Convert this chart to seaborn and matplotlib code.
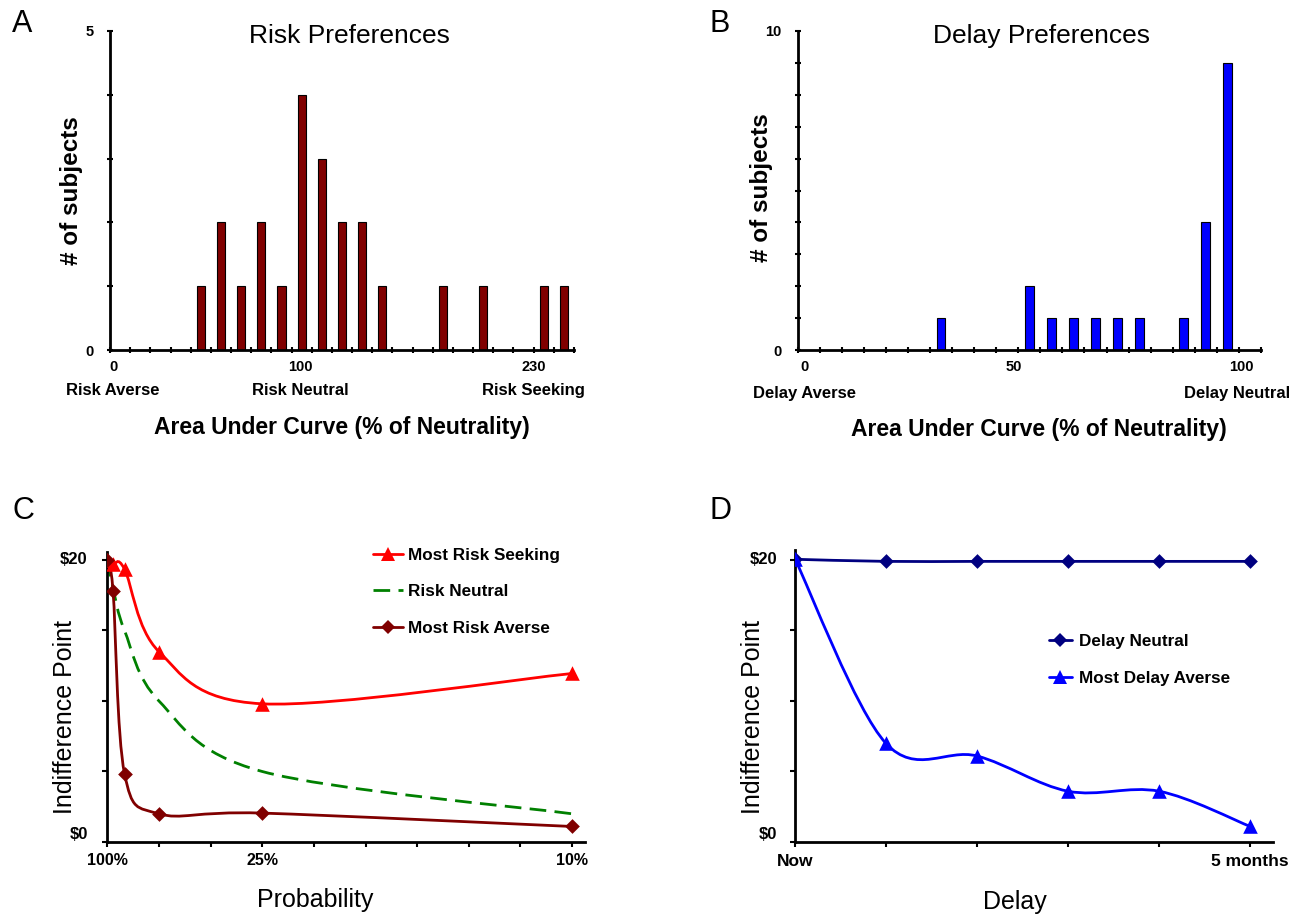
import numpy as np
import matplotlib
matplotlib.use("Agg")
import matplotlib.pyplot as plt
import seaborn as sns
from matplotlib.path import Path
from matplotlib.patches import PathPatch
from matplotlib.lines import Line2D

# ---- data ----
# A: risk preference histogram, bin centres in % of neutrality
risk_auc = [45, 55, 65, 75, 85, 95, 105, 115, 125, 135, 165, 185, 215, 225]
risk_counts = [1, 2, 1, 2, 1, 4, 3, 2, 2, 1, 1, 1, 1, 1]
risk_label_pos = [1.6, 94.5, 210]
risk_tick_text = ["0", "100", "230"]
risk_range_text = ["Risk Averse", "Risk Neutral", "Risk Seeking"]

# B: delay preference histogram
delay_auc = [32.5, 52.5, 57.5, 62.5, 67.5, 72.5, 77.5, 87.5, 92.5, 97.5]
delay_counts = [1, 2, 1, 1, 1, 1, 1, 1, 4, 9]
delay_label_pos = [1.5, 49, 100.5]
delay_tick_text = ["0", "50", "100"]
delay_range_pos = [1.5, 99.5]
delay_range_text = ["Delay Averse", "Delay Neutral"]

# C: indifference points vs probability
probability = [1.00, 0.90, 0.75, 0.50, 0.25, 0.10]
risk_seeking = [20.0, 19.7, 19.35, 13.5, 9.8, 11.95]
risk_neutral = [20.0, 18.0, 15.0, 10.0, 5.0, 2.0]
risk_averse = [20.0, 17.8, 4.85, 2.0, 2.05, 1.1]
prob_tick_values = [1.00, 0.25, 0.10]
prob_tick_text = ["100%", "25%", "10%"]

# D: indifference points vs delay
months = [0, 1, 2, 3, 4, 5]
delay_neutral = [20.05, 19.9, 19.9, 19.9, 19.9, 19.9]
delay_averse = [20.1, 7.0, 6.1, 3.6, 3.6, 1.1]
month_tick_text = ["Now", "", "", "", "", "5 months"]

MAROON = "#800000"
BLUE = "#0000FF"
RED = "#FF0000"
GREEN = "#008000"
NAVY = "#000080"

LW = 2.0
TRI = 10.5
DIA = 7.5

W, H = 1310, 915

sns.set_theme(style="ticks", rc={
    "text.color": "black", "axes.labelcolor": "black",
    "xtick.color": "black", "ytick.color": "black",
    "axes.edgecolor": "black",
})
plt.rcParams["font.family"] = ["Liberation Sans", "DejaVu Sans"]


def smooth_curve(ax, x, y, **kw):
    """Excel-like smoothed line: Catmull-Rom segments as cubic Beziers."""
    pts = np.column_stack([x, y]).astype(float)
    ext = np.vstack([pts[:1], pts, pts[-1:]])
    verts = [pts[0]]
    codes = [Path.MOVETO]
    for i in range(len(pts) - 1):
        p0, p1, p2, p3 = ext[i], ext[i + 1], ext[i + 2], ext[i + 3]
        verts += [p1 + (p2 - p0) / 6, p2 - (p3 - p1) / 6, p2]
        codes += [Path.CURVE4] * 3
    ax.add_patch(PathPatch(Path(verts, codes), fill=False, **kw))


def style_axes(ax, direction="inout", length=4.5):
    sns.despine(ax=ax)
    for side in ("left", "bottom"):
        ax.spines[side].set_linewidth(2)
        ax.spines[side].set_color("black")
    ax.tick_params(direction=direction, length=length, width=1.5, color="black")
    ax.grid(False)


fig = plt.figure(figsize=(W / 100, H / 100), dpi=100)
axA = fig.add_axes([110 / W, 1 - 350 / H, 464 / W, 319 / H])
axB = fig.add_axes([797.5 / W, 1 - 350 / H, 463.5 / W, 319 / H])
axC = fig.add_axes([107.3 / W, 1 - 842 / H, 477.7 / W, 290.5 / H])
axD = fig.add_axes([794.8 / W, 1 - 842 / H, 478.2 / W, 291.9 / H])

# ---- A: risk preferences ----
sns.barplot(x=risk_auc, y=risk_counts, native_scale=True, width=0.41,
            color=MAROON, saturation=1, edgecolor="black", linewidth=0.8,
            errorbar=None, orient="x", ax=axA)
style_axes(axA)
axA.set_xlim(0, 230)
axA.set_ylim(0, 5)
axA.set_xticks(np.arange(0, 231, 10))
axA.set_xticklabels([])
axA.set_yticks(range(6))
axA.set_yticklabels(["0", "", "", "", "", "5"], fontsize=10.5, fontweight="bold")
axA.tick_params(axis="y", pad=9.5)
for pos, num, name in zip(risk_label_pos, risk_tick_text, risk_range_text):
    axA.text(pos, -0.0533, num, transform=axA.get_xaxis_transform(),
             ha="center", va="center", fontsize=10.5, fontweight="bold")
    axA.text(pos, -0.1285, name, transform=axA.get_xaxis_transform(),
             ha="center", va="center", fontsize=12, fontweight="bold")
axA.set_title("Risk Preferences", fontsize=19, x=0.517, y=0.9624, pad=0)
axA.set_ylabel("# of subjects", fontsize=17.5, fontweight="bold", va="center")
axA.yaxis.set_label_coords(-0.0819, 0.5)
axA.set_xlabel("Area Under Curve (% of Neutrality)", fontsize=16.5,
               fontweight="bold", va="center")
axA.xaxis.set_label_coords(0.5, -0.244)

# ---- B: delay preferences ----
sns.barplot(x=delay_auc, y=delay_counts, native_scale=True, width=0.4,
            color=BLUE, saturation=1, edgecolor="black", linewidth=0.8,
            errorbar=None, orient="x", ax=axB)
style_axes(axB)
axB.set_xlim(0, 105)
axB.set_ylim(0, 10)
axB.set_xticks(np.arange(0, 106, 5))
axB.set_xticklabels([])
axB.set_yticks(range(11))
axB.set_yticklabels(["0"] + [""] * 9 + ["10"], fontsize=10.5, fontweight="bold")
axB.tick_params(axis="y", pad=9.5)
for pos, num in zip(delay_label_pos, delay_tick_text):
    axB.text(pos, -0.0533, num, transform=axB.get_xaxis_transform(),
             ha="center", va="center", fontsize=10.5, fontweight="bold")
for pos, name in zip(delay_range_pos, delay_range_text):
    axB.text(pos, -0.135, name, transform=axB.get_xaxis_transform(),
             ha="center", va="center", fontsize=12, fontweight="bold")
axB.set_title("Delay Preferences", fontsize=19, x=0.527, y=0.9633, pad=0)
axB.set_ylabel("# of subjects", fontsize=17.5, fontweight="bold", va="center")
axB.yaxis.set_label_coords(-0.0773, 0.51)
axB.set_xlabel("Area Under Curve (% of Neutrality)", fontsize=16.5,
               fontweight="bold", va="center")
axB.xaxis.set_label_coords(0.521, -0.248)

# ---- C: indifference point vs probability (odds-against axis) ----
odds = [(1 - p) / p for p in probability]
dash = (0, (6, 3))
smooth_curve(axC, odds, risk_seeking, ec=RED, lw=LW, zorder=2)
smooth_curve(axC, odds, risk_neutral, ec=GREEN, lw=LW, ls=dash, zorder=2)
smooth_curve(axC, odds, risk_averse, ec=MAROON, lw=LW, zorder=2)
sns.scatterplot(x=odds, y=risk_seeking, marker="^", s=TRI ** 2, color=RED,
                linewidth=0, zorder=3, legend=False, ax=axC)
sns.scatterplot(x=odds, y=risk_averse, marker="D", s=DIA ** 2, color=MAROON,
                linewidth=0, zorder=4, legend=False, ax=axC)
style_axes(axC, direction="out", length=3.5)
axC.set_xlim(0, 9.25)
axC.set_ylim(0, 20.6)
axC.set_xticks(range(10))
c_labels = [""] * 10
for p, lab in zip(prob_tick_values, prob_tick_text):
    c_labels[int(round((1 - p) / p))] = lab
axC.set_xticklabels(c_labels, fontsize=11.5, fontweight="bold")
axC.tick_params(axis="x", pad=4.7)
axC.set_yticks([0, 5, 10, 15, 20])
axC.set_yticklabels([])
axC.text(-0.041, 20, "$20", transform=axC.get_yaxis_transform(),
         ha="right", va="center", fontsize=12, fontweight="bold")
axC.text(-0.041, 0, "$0", transform=axC.get_yaxis_transform(),
         ha="right", va="bottom", fontsize=12, fontweight="bold")
axC.set_ylabel("Indifference Point", fontsize=18, va="center")
axC.yaxis.set_label_coords(-0.0885, 0.43)
axC.set_xlabel("Probability", fontsize=18, va="center")
axC.xaxis.set_label_coords(0.436, -0.2)
c_handles = [
    Line2D([], [], color=RED, lw=LW, marker="^", ms=TRI, mew=0),
    Line2D([], [], color=GREEN, lw=LW, ls=dash),
    Line2D([], [], color=MAROON, lw=LW, marker="D", ms=DIA, mew=0),
]
axC.legend(c_handles, ["Most Risk Seeking", "Risk Neutral", "Most Risk Averse"],
           loc="upper left", bbox_to_anchor=(372.7 / W, 1 - 548 / H),
           bbox_transform=fig.transFigure, frameon=False,
           prop={"size": 12.3, "weight": "bold"}, handlelength=1.8,
           handletextpad=0.26, labelspacing=1.25, borderpad=0, borderaxespad=0)

# ---- D: indifference point vs delay ----
smooth_curve(axD, months, delay_neutral, ec=NAVY, lw=LW, zorder=2)
smooth_curve(axD, months, delay_averse, ec=BLUE, lw=LW, zorder=2)
sns.scatterplot(x=months, y=delay_neutral, marker="D", s=DIA ** 2, color=NAVY,
                linewidth=0, zorder=3, legend=False, ax=axD)
sns.scatterplot(x=months, y=delay_averse, marker="^", s=TRI ** 2, color=BLUE,
                linewidth=0, zorder=4, legend=False, ax=axD)
style_axes(axD, direction="out", length=3.5)
axD.set_xlim(0, 5.25)
axD.set_ylim(0, 20.7)
axD.set_xticks(months)
axD.set_xticklabels(month_tick_text, fontsize=12.5, fontweight="bold")
axD.tick_params(axis="x", pad=5.2)
axD.set_yticks([0, 5, 10, 15, 20])
axD.set_yticklabels([])
axD.text(-0.037, 20, "$20", transform=axD.get_yaxis_transform(),
         ha="right", va="center", fontsize=12, fontweight="bold")
axD.text(-0.037, 0, "$0", transform=axD.get_yaxis_transform(),
         ha="right", va="bottom", fontsize=12, fontweight="bold")
axD.set_ylabel("Indifference Point", fontsize=18, va="center")
axD.yaxis.set_label_coords(-0.0874, 0.428)
axD.set_xlabel("Delay", fontsize=18, va="center")
axD.xaxis.set_label_coords(0.4605, -0.2055)
d_handles = [
    Line2D([], [], color=NAVY, lw=LW, marker="D", ms=DIA, mew=0),
    Line2D([], [], color=BLUE, lw=LW, marker="^", ms=TRI, mew=0),
]
axD.legend(d_handles, ["Delay Neutral", "Most Delay Averse"],
           loc="upper left", bbox_to_anchor=(1048.6 / W, 1 - 634 / H),
           bbox_transform=fig.transFigure, frameon=False,
           prop={"size": 12.3, "weight": "bold"}, handlelength=1.39,
           handletextpad=0.4, labelspacing=1.28, borderpad=0, borderaxespad=0)

# panel letters
for letter, (px, py) in zip("ABCD", [(22.5, 24), (720, 24), (23, 511), (721, 511)]):
    fig.text(px / W, 1 - py / H, letter, fontsize=22, ha="center", va="center")

fig.savefig("out.png", dpi=100)
